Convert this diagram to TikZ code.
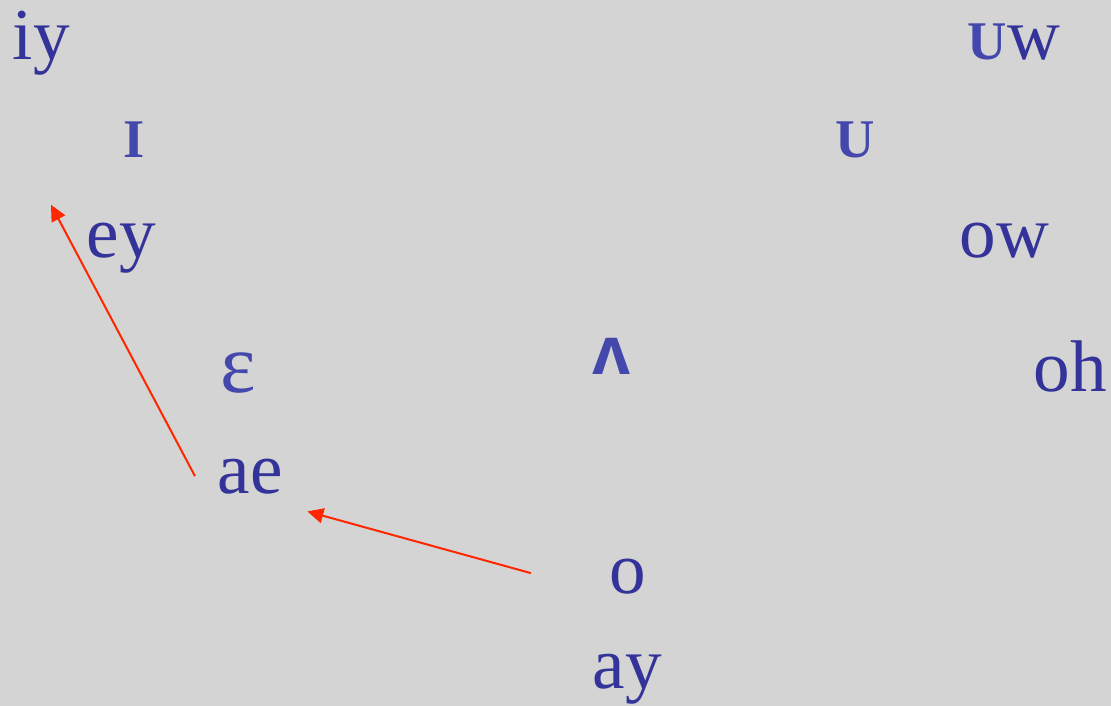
\documentclass[tikz,border=0pt]{standalone}
\usepackage{fontspec}
\setmainfont{Liberation Serif}
\newfontfamily\ipasans{Liberation Sans}
\usetikzlibrary{arrows.meta}
\definecolor{chartgrey}{RGB}{212,212,212}
\definecolor{vowelblue}{RGB}{51,51,153}
\definecolor{ipablue}{RGB}{68,72,172}
\definecolor{movered}{RGB}{255,38,0}

\begin{document}
\begin{tikzpicture}[x=0.01cm,y=-0.01cm,>={Triangle[length=0.16cm,width=0.15cm]},
  vowel/.style={inner sep=0pt,anchor=base west,text=vowelblue,font=\fontsize{20.8}{25}\selectfont},
  ipa/.style={vowel,text=ipablue,font=\bfseries\fontsize{15.5}{18}\selectfont},
  movearrow/.style={->,movered,line width=0.02cm}]
  \fill[chartgrey] (0,0) rectangle (1111,706);
  % front vowels
  \node[vowel] (iy) at (12,60) {iy};
  \node[ipa] (ih) at (123,157) {I};
  \node[vowel] (ey) at (86,258) {ey};
  \node[vowel,text=ipablue,font=\fontsize{24}{28}\selectfont] (eh) at (220,392) {ε};
  \node[vowel] (ae) at (217,493) {ae};
  % central and low
  \node[ipa,font=\ipasans\bfseries\fontsize{19.5}{22}\selectfont] (ah) at (592,374) {ʌ};
  \node[vowel] (aa) at (609,593) {o};
  \node[vowel] (ay) at (592,688) {ay};
  % back vowels
  \node[vowel] (uw) at (967,60) {\textcolor{ipablue}{\bfseries\fontsize{15.5}{18}\selectfont U}w};
  \node[ipa] (uh) at (835,157) {U};
  \node[vowel] (ow) at (959,257) {ow};
  \node[vowel] (oh) at (1033,391) {oh};
  % chain shift
  \draw[movearrow] ([xshift=-0.78cm,yshift=0.03cm]aa.west) -- ([xshift=0.24cm,yshift=-0.17cm]ae.south east);
  \draw[movearrow] ([xshift=-0.22cm]ae.west) -- ([xshift=-0.35cm,yshift=0.18cm]ey.north west);
\end{tikzpicture}
\end{document}
